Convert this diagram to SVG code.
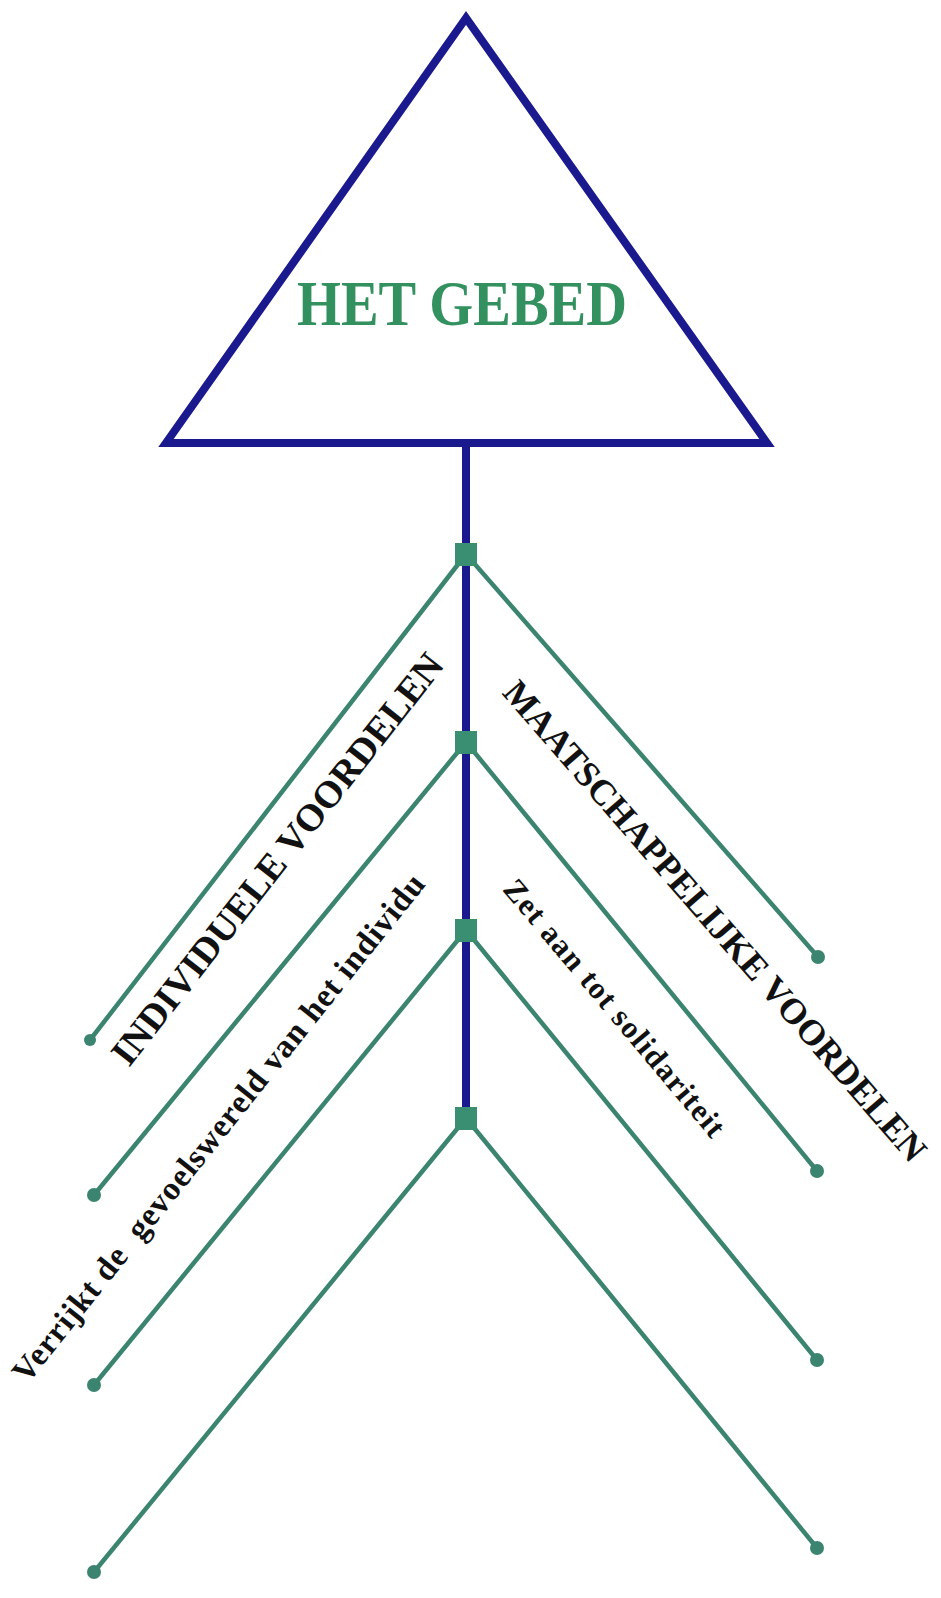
<svg xmlns="http://www.w3.org/2000/svg" width="941" height="1598" viewBox="0 0 941 1598">
  <style>
    .tri { fill: #ffffff; stroke: #1a1a8e; stroke-width: 8; stroke-linejoin: miter; }
    .trunk { stroke: #1a1a8e; stroke-width: 8; fill: none; }
    .branch { stroke: #3b8470; stroke-width: 4.5; fill: none; stroke-linecap: round; }
    .dot { fill: #3b8470; }
    .hub { fill: #3a8f72; }
    .title { font-family: "Liberation Serif", "Times New Roman", serif; font-weight: bold; fill: #33915f; }
    .lbl { font-family: "Liberation Serif", "Times New Roman", serif; font-weight: bold; fill: #111111; text-anchor: middle; }
  </style>
  <rect width="941" height="1598" fill="#ffffff"/>

  <g id="het-gebed">
    <polygon class="tri" points="466,18 166,443 767,443"/>
    <text class="title" x="297" y="325" font-size="64" textLength="330" lengthAdjust="spacingAndGlyphs">HET GEBED</text>
  </g>

  <g id="connectors">
    <line class="trunk" x1="466" y1="443" x2="466" y2="1118"/>
    <line class="branch" x1="466" y1="554" x2="90" y2="1040"/>
    <line class="branch" x1="466" y1="554" x2="818" y2="957"/>
    <line class="branch" x1="466" y1="742" x2="94" y2="1195"/>
    <line class="branch" x1="466" y1="742" x2="817" y2="1171"/>
    <line class="branch" x1="466" y1="930" x2="94" y2="1385"/>
    <line class="branch" x1="466" y1="930" x2="817" y2="1360"/>
    <line class="branch" x1="466" y1="1118" x2="94" y2="1572"/>
    <line class="branch" x1="466" y1="1118" x2="817" y2="1548"/>
  </g>

  <g id="hubs">
    <rect class="hub" x="455" y="543" width="22" height="23"/>
    <rect class="hub" x="455" y="731" width="22" height="23"/>
    <rect class="hub" x="455" y="919" width="22" height="23"/>
    <rect class="hub" x="455" y="1107" width="22" height="23"/>
  </g>

  <g id="endpoints">
    <circle class="dot" cx="90" cy="1040" r="6"/>
    <circle class="dot" cx="818" cy="957" r="7"/>
    <circle class="dot" cx="94" cy="1195" r="7"/>
    <circle class="dot" cx="817" cy="1171" r="7"/>
    <circle class="dot" cx="94" cy="1385" r="7"/>
    <circle class="dot" cx="817" cy="1360" r="7"/>
    <circle class="dot" cx="94" cy="1572" r="7"/>
    <circle class="dot" cx="817" cy="1548" r="7"/>
  </g>

  <g id="label-individuele">
    <text class="lbl" font-size="38" transform="translate(277.5,859) rotate(-51.8)" x="0" y="12.5" textLength="512" lengthAdjust="spacingAndGlyphs">INDIVIDUELE VOORDELEN</text>
  </g>
  <g id="label-maatschappelijke">
    <text class="lbl" font-size="36" transform="translate(715,921) rotate(49)" x="0" y="12" textLength="624" lengthAdjust="spacingAndGlyphs">MAATSCHAPPELIJKE VOORDELEN</text>
  </g>
  <g id="label-verrijkt">
    <text class="lbl" font-size="33" transform="translate(221,1130) rotate(-51.4)" x="0" y="7.5" textLength="640" lengthAdjust="spacing" xml:space="preserve">Verrijkt de  gevoelswereld van het individu</text>
  </g>
  <g id="label-zet">
    <text class="lbl" font-size="31" transform="translate(612,1010) rotate(50)" x="0" y="7" textLength="326" lengthAdjust="spacing">Zet aan tot solidariteit</text>
  </g>
</svg>
